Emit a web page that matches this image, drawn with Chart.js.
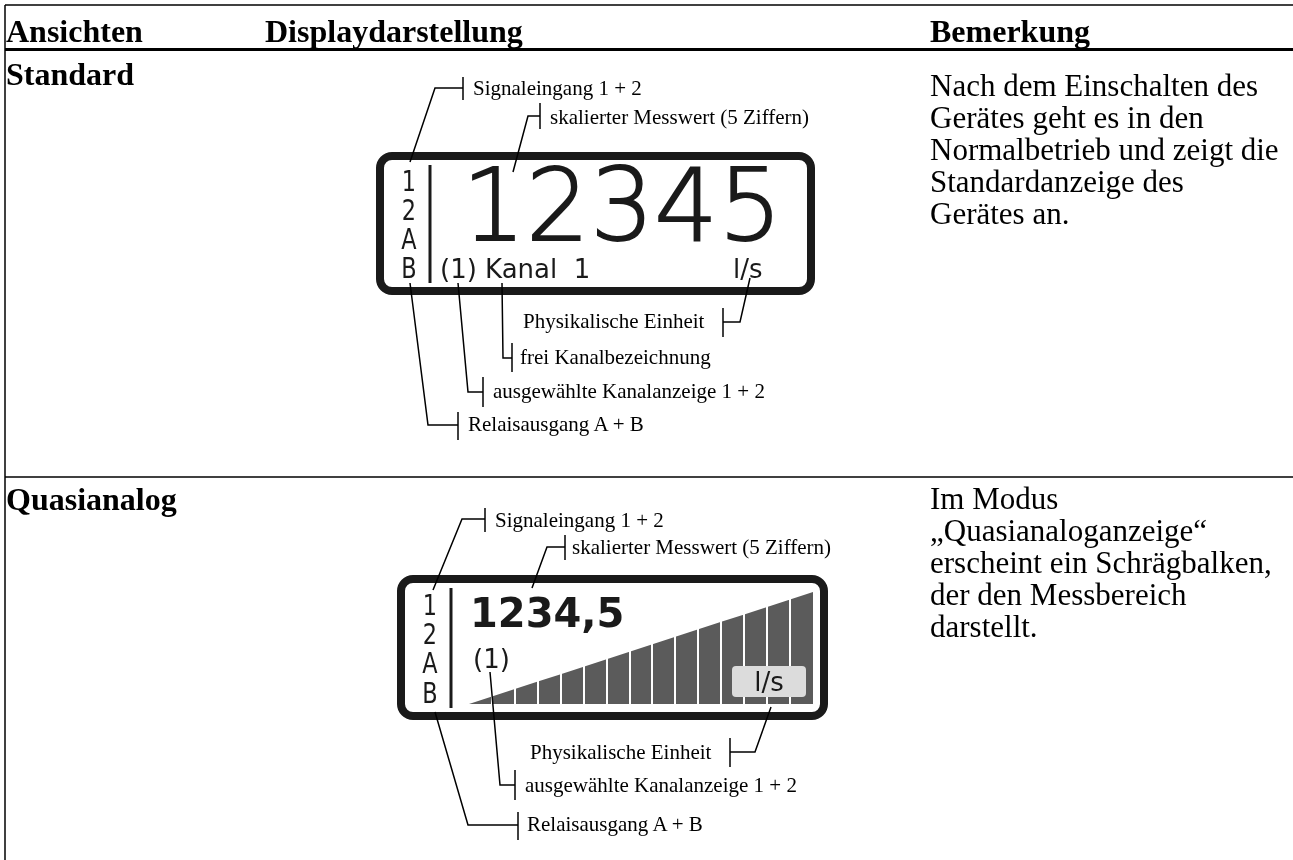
<!DOCTYPE html>
<html>
<head>
<meta charset="utf-8">
<script src="https://cdn.jsdelivr.net/npm/chart.js@4.4.1/dist/chart.umd.min.js"></script>
<style>
  html, body { margin:0; padding:0; background:#fff; }
  #root { position:relative; width:1293px; height:860px; overflow:hidden; background:#fff; }
  #wedgeWrap { position:absolute; left:469px; top:592px; width:344px; height:112px; }
  #top { position:absolute; left:0; top:0; pointer-events:none; }
  .serif { font-family:"Liberation Serif","Times New Roman",serif; }
  .disp { font-family:"DejaVu Sans",sans-serif; fill:#1a1a1a; }
</style>
</head>
<body>
<div id="root">
<div id="wedgeWrap"><canvas id="wedge" width="344" height="112"></canvas></div>
<svg id="top" width="1293" height="860" xmlns="http://www.w3.org/2000/svg">
  <!-- table lines -->
  <line x1="5" y1="5" x2="1293" y2="5" stroke="#000" stroke-width="1.5"/>
  <line x1="5" y1="5" x2="5" y2="860" stroke="#000" stroke-width="1.5"/>
  <line x1="5" y1="49.5" x2="1293" y2="49.5" stroke="#000" stroke-width="3"/>
  <line x1="5" y1="477" x2="1293" y2="477" stroke="#000" stroke-width="1.5"/>

  <!-- headers -->
  <g class="serif" font-weight="bold" font-size="32" fill="#000">
    <text x="6" y="42">Ansichten</text>
    <text x="265" y="42">Displaydarstellung</text>
    <text x="930" y="42">Bemerkung</text>
    <text x="6" y="85">Standard</text>
    <text x="6" y="510">Quasianalog</text>
  </g>
  <g class="serif" font-size="31" fill="#000">
    <text x="930" y="96">Nach dem Einschalten des</text>
    <text x="930" y="128">Gerätes geht es in den</text>
    <text x="930" y="160">Normalbetrieb und zeigt die</text>
    <text x="930" y="192">Standardanzeige des</text>
    <text x="930" y="224">Gerätes an.</text>
    <text x="930" y="509">Im Modus</text>
    <text x="930" y="541">„Quasianaloganzeige“</text>
    <text x="930" y="573">erscheint ein Schrägbalken,</text>
    <text x="930" y="605">der den Messbereich</text>
    <text x="930" y="637">darstellt.</text>
  </g>

  <!-- standard display -->
  <rect x="380" y="156" width="431" height="135" rx="12" ry="12" fill="none" stroke="#1a1a1a" stroke-width="8"/>
  <line x1="430" y1="165" x2="430" y2="283" stroke="#1a1a1a" stroke-width="3"/>
  <text class="disp" font-size="28" text-anchor="middle" transform="translate(409 0) scale(0.8 1) translate(-409 0)"><tspan x="409" y="191">1</tspan><tspan x="409" y="220">2</tspan><tspan x="409" y="249">A</tspan><tspan x="409" y="278">B</tspan></text>
  <text class="disp" x="462" y="240" font-size="100" font-weight="200" stroke="#1a1a1a" stroke-width="1.8" letter-spacing="0.5">12345</text>
  <text class="disp" x="440" y="278" font-size="26" xml:space="preserve">(1) Kanal  1</text>
  <text class="disp" x="733" y="278" font-size="26">l/s</text>

  <!-- quasianalog display -->
  <rect x="401" y="579" width="423" height="137" rx="12" ry="12" fill="none" stroke="#1a1a1a" stroke-width="8"/>
  <line x1="451" y1="588" x2="451" y2="708" stroke="#1a1a1a" stroke-width="3"/>
  <text class="disp" font-size="28" text-anchor="middle" transform="translate(430 0) scale(0.8 1) translate(-430 0)"><tspan x="430" y="615">1</tspan><tspan x="430" y="644">2</tspan><tspan x="430" y="673">A</tspan><tspan x="430" y="703">B</tspan></text>
  <text class="disp" x="470" y="627" font-size="40" font-weight="bold">1234,5</text>
  <text class="disp" x="473" y="668" font-size="26">(1)</text>
  <rect x="732" y="666" width="74" height="31" rx="4" ry="4" fill="#dcdcdc"/>
  <text class="disp" x="769" y="691" font-size="26" text-anchor="middle" fill="#333">l/s</text>

  <!-- leaders: standard -->
  <g fill="none" stroke="#000" stroke-width="1.5">
    <polyline points="410,162 435,88 463,88"/><line x1="463" y1="77" x2="463" y2="100"/>
    <polyline points="513,172 528,116 540,116"/><line x1="540" y1="103" x2="540" y2="129"/>
    <polyline points="750,278 740,322 723,322"/><line x1="723" y1="308" x2="723" y2="337"/>
    <polyline points="502,283 503,358 512,358"/><line x1="512" y1="343" x2="512" y2="372"/>
    <polyline points="458,283 468,392 483,392"/><line x1="483" y1="377" x2="483" y2="407"/>
    <polyline points="410,283 428,425 458,425"/><line x1="458" y1="412" x2="458" y2="440"/>
  </g>
  <g class="serif" font-size="21" fill="#000">
    <text x="473" y="95">Signaleingang 1 + 2</text>
    <text x="550" y="124">skalierter Messwert (5 Ziffern)</text>
    <text x="523" y="328">Physikalische Einheit</text>
    <text x="520" y="364">frei Kanalbezeichnung</text>
    <text x="493" y="398">ausgewählte Kanalanzeige 1 + 2</text>
    <text x="468" y="431">Relaisausgang A + B</text>
  </g>

  <!-- leaders: quasianalog -->
  <g fill="none" stroke="#000" stroke-width="1.5">
    <polyline points="433,590 462,519 485,519"/><line x1="485" y1="508" x2="485" y2="532"/>
    <polyline points="532,588 547,547 565,547"/><line x1="565" y1="535" x2="565" y2="560"/>
    <polyline points="771,707 755,752 730,752"/><line x1="730" y1="738" x2="730" y2="767"/>
    <polyline points="490,672 500,785 515,785"/><line x1="515" y1="770" x2="515" y2="800"/>
    <polyline points="435,712 468,825 518,825"/><line x1="518" y1="812" x2="518" y2="840"/>
  </g>
  <g class="serif" font-size="21" fill="#000">
    <text x="495" y="527">Signaleingang 1 + 2</text>
    <text x="572" y="554">skalierter Messwert (5 Ziffern)</text>
    <text x="530" y="759">Physikalische Einheit</text>
    <text x="525" y="792">ausgewählte Kanalanzeige 1 + 2</text>
    <text x="527" y="831">Relaisausgang A + B</text>
  </g>
</svg>
</div>
<script>
// Quasianalog bar graph: segment boundaries and the wedge level at each boundary
const segmentEdges = [0, 1, 2, 3, 4, 5, 6, 7, 8, 9, 10, 11, 12, 13, 14, 15];
const wedgeLevels  = [0, 1, 2, 3, 4, 5, 6, 7, 8, 9, 10, 11, 12, 13, 14, 15];
const scaleMax = 15;

const points = segmentEdges.map((x, i) => ({ x: x, y: wedgeLevels[i] }));

new Chart(document.getElementById('wedge'), {
  type: 'line',
  data: {
    datasets: [{
      data: points,
      fill: 'origin',
      backgroundColor: '#5b5b5b',
      borderWidth: 0,
      pointRadius: 0,
      tension: 0
    }]
  },
  options: {
    responsive: false,
    animation: false,
    devicePixelRatio: 1,
    layout: { padding: 0 },
    plugins: { legend: { display: false }, tooltip: { enabled: false } },
    scales: {
      x: {
        type: 'linear', min: 0, max: scaleMax,
        ticks: { display: false, stepSize: 1 },
        border: { display: false },
        grid: {
          z: 1, lineWidth: 2, drawTicks: false,
          color: (c) => (c.tick && (c.tick.value === 0 || c.tick.value === scaleMax)) ? 'rgba(0,0,0,0)' : '#ffffff'
        }
      },
      y: {
        display: false, min: 0, max: scaleMax
      }
    }
  }
});
</script>
</body>
</html>
